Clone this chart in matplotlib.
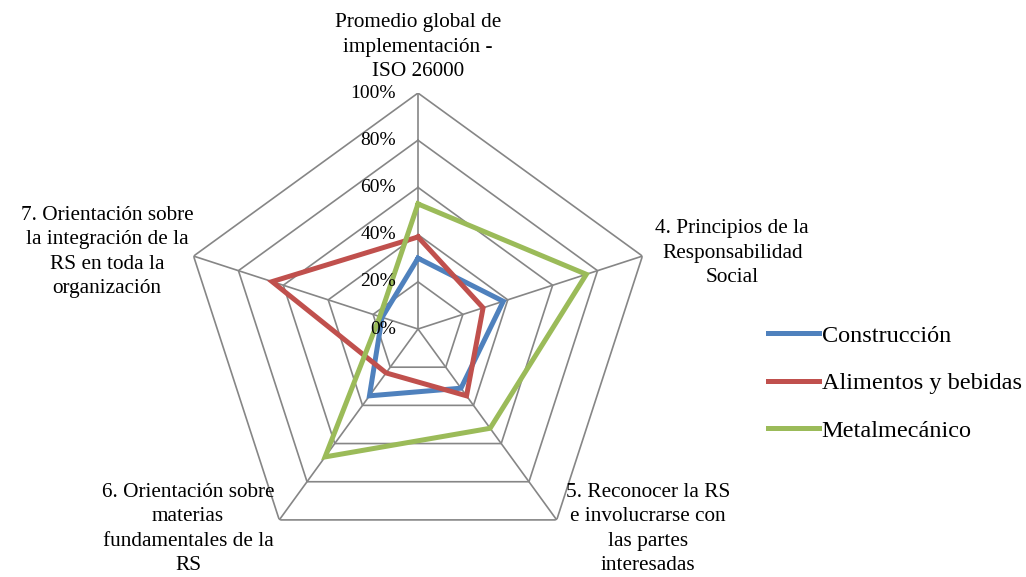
import numpy as np
import matplotlib.pyplot as plt
from matplotlib import transforms

plt.rcParams["font.family"] = ["Liberation Serif", "DejaVu Serif"]

categories = [
    "Promedio global de\nimplementación -\nISO 26000",
    "4. Principios de la\nResponsabilidad\nSocial",
    "5. Reconocer la RS\ne involucrarse con\nlas partes\ninteresadas",
    "6. Orientación sobre\nmaterias\nfundamentales de la\nRS",
    "7. Orientación sobre\nla integración de la\nRS en toda la\norganización",
]
construccion = [0.30, 0.38, 0.31, 0.35, 0.16]
alimentos = [0.39, 0.29, 0.35, 0.23, 0.65]
metalmecanico = [0.53, 0.75, 0.52, 0.67, 0.17]
tick_values = [0.0, 0.2, 0.4, 0.6, 0.8, 1.0]
tick_labels = ["0%", "20%", "40%", "60%", "80%", "100%"]

series = [
    ("Construcción", construccion, "#4F81BD"),
    ("Alimentos y bebidas", alimentos, "#C0504D"),
    ("Metalmecánico", metalmecanico, "#9BBB59"),
]

n = len(categories)
angles = np.linspace(0, 2 * np.pi, n, endpoint=False)
closed = np.append(angles, angles[0])

fig = plt.figure(figsize=(10.26, 5.77), dpi=100)
ax = fig.add_axes([0.1774, 0.0208, 0.460, 0.818], projection="polar")
ax.set_theta_offset(np.pi / 2)
ax.set_theta_direction(-1)
ax.set_ylim(0, 1)
ax.set_frame_on(False)
ax.grid(False)
ax.set_xticks([])
ax.set_yticks([])

grid_color = "#868686"
for r in tick_values[1:]:
    ax.plot(closed, [r] * (n + 1), color=grid_color, lw=1.2, zorder=1)
for a in angles:
    ax.plot([a, a], [0, 1], color=grid_color, lw=1.2, zorder=1)

for name, vals, color in series:
    ax.plot(closed, vals + vals[:1], color=color, lw=3.6, label=name,
            solid_joinstyle="miter", zorder=3)

off = transforms.offset_copy(ax.transData, fig=fig, x=-22, y=0, units="dots")
for v, lab in zip(tick_values, tick_labels):
    ax.text(0, v, lab, transform=off, ha="right", va="center", fontsize=14, zorder=4)

# category labels placed just outside the outer ring
label_pos = [
    (angles[0], "center", "bottom", 0, 12),
    (angles[1], "left", "center", 13, 3),
    (angles[2], "left", "top", 9, 37),
    (angles[3], "right", "top", -5, 37),
    (angles[4], "right", "center", 0, 4),
]
for (a, ha, va, dx, dy), lab in zip(label_pos, categories):
    t = transforms.offset_copy(ax.transData, fig=fig, x=dx, y=dy, units="dots")
    ax.text(a, 1.0, lab, transform=t, ha=ha, va=va, fontsize=15.3,
            multialignment="center", linespacing=1.38)

fig.legend(loc="center left", bbox_to_anchor=(0.727, 0.336), frameon=False,
           fontsize=17.5, handlelength=2.1, handletextpad=0.12, labelspacing=1.05)

fig.savefig("out.png", dpi=100)
